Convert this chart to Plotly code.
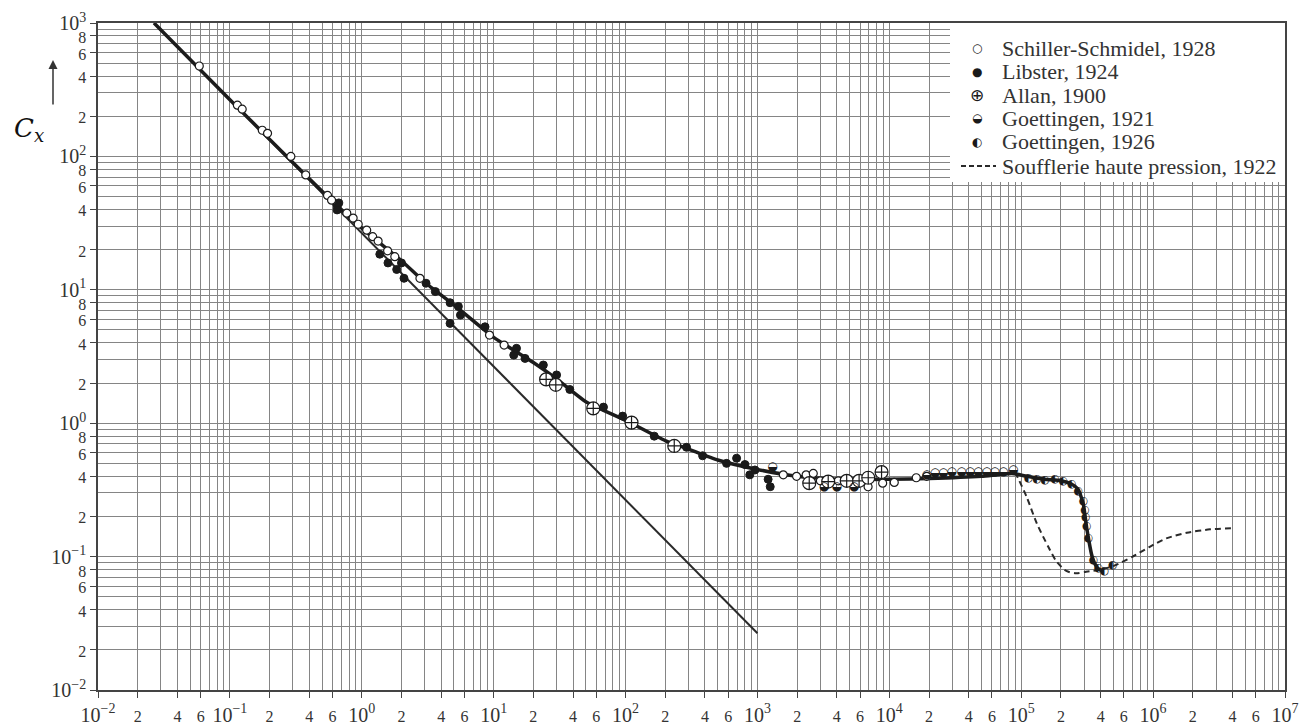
import plotly.graph_objects as go

# ---------------- data ----------------
stokes_re = [0.0266, 1000]
stokes_cx = [1000, 0.0266]

curve_re = [0.0266, 0.1, 0.3, 0.6, 1, 2, 3, 5, 10, 20, 30, 50, 100, 200, 300, 500,
            1000, 2000, 4000, 1e4, 2e4, 5e4, 8.5e4, 1.1e5, 1.5e5, 2e5, 2.4e5, 2.7e5,
            2.95e5, 3.15e5, 3.45e5, 3.75e5, 4.1e5]
curve_cx = [1000, 266, 90, 46, 29, 16.5, 11.4, 7.7, 4.4, 2.85, 2.15, 1.45, 1.05, 0.74, 0.64, 0.53,
            0.45, 0.40, 0.38, 0.38, 0.385, 0.40, 0.42, 0.40, 0.38, 0.37, 0.35, 0.32,
            0.25, 0.16, 0.10, 0.083, 0.078]

dashed_re = [9e4, 1.1e5, 1.31e5, 1.6e5, 1.85e5, 2.2e5, 2.6e5, 3.1e5, 4e5, 5e5, 7e5,
             9.5e5, 1.26e6, 1.8e6, 2.7e6, 4e6]
dashed_cx = [0.43, 0.28, 0.178, 0.119, 0.092, 0.078, 0.075, 0.077, 0.080, 0.085, 0.10,
             0.119, 0.137, 0.151, 0.160, 0.163]

schiller_re = [0.0586, 0.114, 0.124, 0.176, 0.193, 0.29, 0.376, 0.55, 0.59, 0.77, 0.86, 0.94,
               1.09, 1.21, 1.33, 1.57, 1.78, 2.76, 9.3, 12, 1570, 1980, 2340, 2650, 3000,
               4100, 6900, 8900, 10900, 16000, 19200]
schiller_cx = [476, 242, 226, 157, 149, 100, 72.6, 51, 47, 37.5, 34.5, 31,
               28, 25, 23.2, 19.6, 17.7, 12.2, 4.58, 3.85, 0.41, 0.40, 0.41, 0.42, 0.37,
               0.37, 0.334, 0.355, 0.36, 0.39, 0.40]

libster_re = [0.65, 0.67, 0.65, 1.37, 1.58, 1.84, 2.0, 2.09, 3.07, 3.61, 4.67, 5.4, 5.6, 4.67,
              8.6, 14.2, 14.9, 17.3, 23.8, 30, 37.8, 68, 95, 165, 290, 384, 583, 695, 804,
              875, 957, 1205, 1250]
libster_cx = [43, 44.8, 39.7, 18.5, 15.9, 14.2, 15.9, 12.2, 11.2, 9.7, 8.0, 7.5, 6.46, 5.6,
              5.28, 3.24, 3.64, 3.06, 2.73, 2.3, 1.79, 1.32, 1.13, 0.80, 0.66, 0.57, 0.50, 0.546,
              0.49, 0.41, 0.446, 0.38, 0.334]

allan_re = [25, 29.6, 56.9, 111, 234, 2470, 3440, 4750, 5900, 6920, 8730]
allan_cx = [2.13, 1.94, 1.29, 1.01, 0.675, 0.355, 0.365, 0.37, 0.37, 0.39, 0.43]

g1921_re = [1300, 3200, 4000, 5400, 19200, 22200, 25600, 29700, 35300, 40800, 47200,
            54700, 63100, 73100, 87100]
g1921_cx = [0.47, 0.335, 0.33, 0.33, 0.41, 0.42, 0.42, 0.43, 0.43, 0.43, 0.43,
            0.43, 0.43, 0.43, 0.446]

g1926_re = [113000, 131000, 151000, 180000, 208000, 241000, 270000, 295000, 304000,
            308000, 313000, 322000, 352000, 384000, 426000, 493000]
g1926_cx = [0.39, 0.38, 0.375, 0.38, 0.37, 0.35, 0.31, 0.258, 0.224, 0.197, 0.168,
            0.137, 0.094, 0.082, 0.078, 0.086]

legend_labels = ["Schiller-Schmidel, 1928", "Libster, 1924", "Allan, 1900",
                 "Goettingen, 1921", "Goettingen, 1926", "Soufflerie haute pression, 1922"]
legend_glyphs = ["○", "●", "⊕", "◒", "◐", ""]

x_decades = list(range(-2, 7))   # 10^-2 .. 10^6, plus 10^7 at the end
y_decades = list(range(-2, 3))   # 10^-2 .. 10^2, plus 10^3 at the end
x_labelled_digits = [2, 4, 6]
y_labelled_digits = [2, 4, 6, 8]

# ---------------- helpers ----------------
SERIF = "Liberation Serif"


def pow_label(d):
    s = ("−" if d < 0 else "") + str(abs(d))
    return f"10<sup>{s}</sup>"


def build_ticks(decades, labelled, last):
    vals, texts, grid = [], [], []
    for d in decades:
        for m in range(1, 10):
            v = m * 10.0 ** d
            grid.append(v)
            if m == 1:
                vals.append(v)
                texts.append(pow_label(d))
            elif m in labelled:
                vals.append(v)
                texts.append(f"<span style='font-size:16px'>{m}</span>")
    vals.append(10.0 ** last)
    texts.append(pow_label(last))
    grid.append(10.0 ** last)
    return vals, texts, grid


xt_vals, xt_text, x_grid = build_ticks(x_decades, x_labelled_digits, 7)
yt_vals, yt_text, y_grid = build_ticks(y_decades, y_labelled_digits, 3)

fig = go.Figure()

fig.add_trace(go.Scatter(x=stokes_re, y=stokes_cx, mode="lines",
                         line=dict(color="#2a2a2a", width=2), showlegend=False, hoverinfo="skip"))
fig.add_trace(go.Scatter(x=dashed_re, y=dashed_cx, mode="lines",
                         line=dict(color="#2a2a2a", width=2, dash="6px,4px", shape="spline", smoothing=0.7),
                         showlegend=False, hoverinfo="skip"))
fig.add_trace(go.Scatter(x=curve_re, y=curve_cx, mode="lines",
                         line=dict(color="#1c1c1c", width=3.5, shape="spline", smoothing=0.5),
                         showlegend=False, hoverinfo="skip"))

fig.add_trace(go.Scatter(x=libster_re, y=libster_cx, mode="markers",
                         marker=dict(symbol="circle", size=8, color="#1a1a1a",
                                     line=dict(color="#1a1a1a", width=1)),
                         showlegend=False))
fig.add_trace(go.Scatter(x=schiller_re, y=schiller_cx, mode="markers",
                         marker=dict(symbol="circle", size=8, color="white",
                                     line=dict(color="#1a1a1a", width=1.2)),
                         showlegend=False))
fig.add_trace(go.Scatter(x=allan_re, y=allan_cx, mode="markers",
                         marker=dict(symbol="circle-cross", size=13, color="white",
                                     line=dict(color="#1a1a1a", width=1.2)),
                         showlegend=False))
fig.add_trace(go.Scatter(x=g1921_re, y=g1921_cx, mode="text", text=["◒"] * len(g1921_re),
                         textposition="middle center",
                         textfont=dict(family="DejaVu Sans", size=12, color="#1a1a1a"),
                         showlegend=False))
fig.add_trace(go.Scatter(x=g1926_re, y=g1926_cx, mode="text", text=["◐"] * len(g1926_re),
                         textposition="middle center",
                         textfont=dict(family="DejaVu Sans", size=11, color="#1a1a1a"),
                         showlegend=False))


def axis(rng, vals, texts, grid):
    return dict(
        type="log", range=rng, tickmode="array", tickvals=vals, ticktext=texts,
        automargin=False,
        showgrid=True, gridcolor="#858585", gridwidth=1,
        minor=dict(tickmode="array", tickvals=grid, showgrid=True,
                   gridcolor="#858585", gridwidth=1, ticks=""),
        showline=True, mirror=True, linecolor="#444444", linewidth=1.5,
        ticks="outside", ticklen=6, tickcolor="#444444", zeroline=False,
        tickfont=dict(family=SERIF, size=20, color="#333333"),
    )


# The page body has an 8px default margin, so the figure is 16px smaller than
# the window and its plot area is placed to land on the reference's frame.
fig.update_layout(
    width=1299, height=717,
    margin=dict(l=90, r=22, t=15, b=35, autoexpand=False),
    paper_bgcolor="white", plot_bgcolor="white",
    xaxis=axis([-2, 7], xt_vals, xt_text, x_grid),
    yaxis=axis([-2, 3], yt_vals, yt_text, y_grid),
    showlegend=False,
)

# ---------------- manual legend (page pixel -> paper fraction) ----------------
PX0, PW = 98.0, 1187.0
PY1, PH = 690.0, 667.0


def px(xp):
    return (xp - PX0) / PW


def py(yp):
    return (PY1 - yp) / PH


fig.add_shape(type="rect", xref="paper", yref="paper", x0=px(950), x1=1.0, y0=py(182), y1=1.0,
              fillcolor="white", line=dict(width=0), layer="above")

row_y = [48, 72, 95, 118, 142, 166]
glyph_sizes = [12, 12, 17, 12, 12, 12]
for lab, gl, ry, gs in zip(legend_labels, legend_glyphs, row_y, glyph_sizes):
    fig.add_annotation(xref="paper", yref="paper", x=px(1000), y=py(ry), text=lab,
                       showarrow=False, xanchor="left", yanchor="middle",
                       font=dict(family=SERIF, size=22, color="#333333"))
    if gl:
        fig.add_annotation(xref="paper", yref="paper", x=px(977), y=py(ry), text=gl,
                           showarrow=False, xanchor="center", yanchor="middle",
                           font=dict(family="DejaVu Sans", size=gs, color="#1a1a1a"))
fig.add_shape(type="line", xref="paper", yref="paper", x0=px(961), x1=px(996),
              y0=py(row_y[-1]), y1=py(row_y[-1]),
              line=dict(color="#2a2a2a", width=2, dash="5px,3px"), layer="above")

# ---------------- y-axis label and arrow ----------------
fig.add_annotation(xref="paper", yref="paper", x=px(29), y=py(129),
                   xanchor="center", yanchor="middle",
                   text="<i>C</i><sub><i>x</i></sub>", showarrow=False,
                   font=dict(family="DejaVu Serif", size=26, color="#111111"))
fig.add_annotation(xref="paper", yref="paper", x=px(53), y=py(60), text="",
                   xanchor="center", yanchor="middle",
                   showarrow=True, ax=0, ay=46, arrowhead=2, arrowsize=1.2,
                   arrowwidth=1.5, arrowcolor="#333333")

fig.write_html("out.html")
